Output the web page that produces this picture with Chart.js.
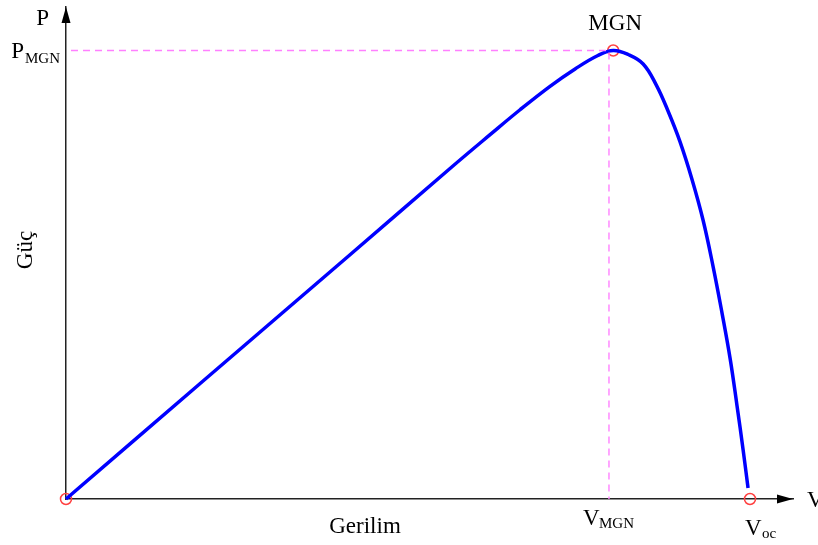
<!DOCTYPE html>
<html>
<head>
<meta charset="utf-8">
<script src="https://cdn.jsdelivr.net/npm/chart.js@4.4.1/dist/chart.umd.min.js"></script>
<style>
  html, body { margin: 0; padding: 0; background: #fff; }
  #wrap { width: 818px; height: 545px; }
</style>
</head>
<body>
<div id="wrap"><canvas id="pvChart" width="818" height="545"></canvas></div>
<script>
// P-V curve (voltage in V, power in % of P_MGN)
const voltage = [0, 4.11, 8.72, 11.79, 13.02, 13.94, 14.86, 15.63, 16.33, 16.8,
  17.26, 17.72, 18.12, 18.48, 18.85, 19.22, 19.56, 19.87, 20.14, 20.39,
  20.6, 20.79, 20.94];
const power = [0, 25.7, 54.47, 73.7, 81.24, 86.79, 92.01, 95.89, 98.89, 100,
  99.11, 97.0, 92.34, 86.57, 79.69, 71.25, 62.15, 51.72, 41.51, 31.3,
  20.87, 10.88, 2.44];

const vMgn = 16.8;       // maximum power point
const vMgnGuide = 16.67; // where the dashed guide is drawn
const pMgn = 100;
const vOc = 21.0;

const markerV = [0, vMgn, vOc];
const markerP = [0, pMgn, 0];

const xMax = 22.32;
const yMax = 109.7;

const serif = '"Liberation Serif", "Times New Roman", serif';

function toPoints(xs, ys) {
  return xs.map((x, i) => ({ x: x, y: ys[i] }));
}

const labelsPlugin = {
  id: 'pvLabels',
  afterDraw(chart) {
    const ctx = chart.ctx;
    const xs = chart.scales.x;
    const ys = chart.scales.y;
    const x0 = xs.getPixelForValue(0);
    const y0 = ys.getPixelForValue(0);
    const xEnd = xs.right;
    const yTop = ys.top;

    ctx.save();
    // arrow heads
    ctx.fillStyle = '#000';
    ctx.beginPath();
    ctx.moveTo(x0, yTop);
    ctx.lineTo(x0 - 4.5, yTop + 16);
    ctx.lineTo(x0 + 4.5, yTop + 16);
    ctx.closePath();
    ctx.fill();
    ctx.beginPath();
    ctx.moveTo(xEnd, y0);
    ctx.lineTo(xEnd - 16, y0 - 4.5);
    ctx.lineTo(xEnd - 16, y0 + 4.5);
    ctx.closePath();
    ctx.fill();

    ctx.textBaseline = 'alphabetic';
    const big = '23px ' + serif;
    const small = '15px ' + serif;

    // P at top of y axis
    ctx.font = big;
    ctx.textAlign = 'right';
    ctx.fillText('P', x0 - 17, 25);

    // P_MGN
    const yP = ys.getPixelForValue(pMgn);
    ctx.font = small;
    ctx.fillText('MGN', x0 - 6, yP + 12);
    const subW = ctx.measureText('MGN').width;
    ctx.font = big;
    ctx.fillText('P', x0 - 7 - subW, yP + 7);

    // MGN above the peak
    ctx.textAlign = 'center';
    ctx.fillText('MGN', xs.getPixelForValue(vMgn) + 2, 30);

    // V_MGN
    const xV = xs.getPixelForValue(vMgnGuide);
    ctx.textAlign = 'left';
    ctx.fillText('V', xV - 26, y0 + 26);
    ctx.font = small;
    ctx.fillText('MGN', xV - 10, y0 + 29);

    // V_oc
    const xOc = xs.getPixelForValue(vOc);
    ctx.font = big;
    ctx.fillText('V', xOc - 5, y0 + 36);
    ctx.font = small;
    ctx.fillText('oc', xOc + 12, y0 + 39);

    // V at the end of x axis
    ctx.font = big;
    ctx.fillText('V', xEnd + 14, y0 + 8);

    // axis titles
    ctx.textAlign = 'center';
    ctx.fillText('Gerilim', 365, 533);
    ctx.translate(32, 250);
    ctx.rotate(-Math.PI / 2);
    ctx.fillText('Güç', 0, 0);
    ctx.restore();
  }
};

new Chart(document.getElementById('pvChart'), {
  type: 'scatter',
  data: {
    datasets: [
      {
        label: 'guide',
        data: toPoints([0, vMgnGuide, vMgnGuide], [pMgn, pMgn, 0]),
        showLine: true,
        borderColor: '#ff80ff',
        borderWidth: 1.4,
        borderDash: [7, 5],
        borderDashOffset: -5,
        pointRadius: 0,
        tension: 0,
        clip: false
      },
      {
        label: 'P-V',
        data: toPoints(voltage, power),
        showLine: true,
        borderColor: '#0000ff',
        borderWidth: 3.5,
        pointRadius: 0,
        tension: 0.4,
        clip: false
      },
      {
        label: 'points',
        data: toPoints(markerV, markerP),
        showLine: false,
        pointRadius: 5.5,
        pointBorderWidth: 1.5,
        pointBorderColor: '#ff4040',
        pointBackgroundColor: 'rgba(0,0,0,0)',
        clip: false
      }
    ]
  },
  options: {
    responsive: false,
    animation: false,
    devicePixelRatio: 1,
    layout: { padding: { left: 66, right: 25, top: 5, bottom: 46 } },
    plugins: { legend: { display: false }, tooltip: { enabled: false } },
    scales: {
      x: {
        type: 'linear', min: 0, max: xMax,
        ticks: { display: false },
        grid: { display: false, drawTicks: false },
        border: { display: true, color: '#222', width: 1.5 },
        afterFit: s => { s.height = 0; }
      },
      y: {
        type: 'linear', min: 0, max: yMax,
        ticks: { display: false },
        grid: { display: false, drawTicks: false },
        border: { display: true, color: '#222', width: 1.5 },
        afterFit: s => { s.width = 0; }
      }
    }
  },
  plugins: [labelsPlugin]
});
</script>
</body>
</html>
